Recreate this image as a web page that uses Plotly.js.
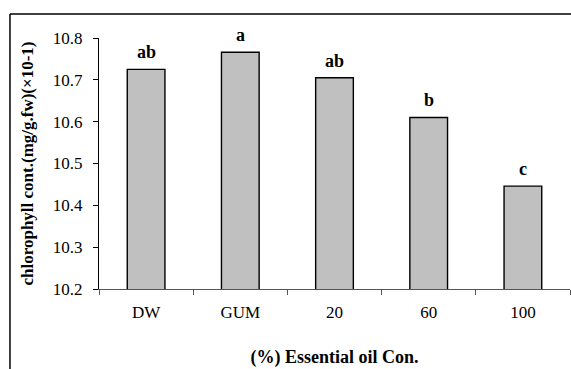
<!DOCTYPE html>
<html>
<head>
<meta charset="utf-8">
<script src="https://cdn.plot.ly/plotly-3.0.1.min.js"></script>
<style>html,body{margin:0;padding:0;background:#fff;}#chart{width:571px;height:369px;}</style>
</head>
<body>
<div id="chart"></div>
<script>
const categories = ["DW", "GUM", "20", "60", "100"];
const chlorophyll = [10.725, 10.766, 10.705, 10.610, 10.446];
const letters = ["ab", "a", "ab", "b", "c"];
const yTicks = [10.2, 10.3, 10.4, 10.5, 10.6, 10.7, 10.8];

const serif = "Liberation Serif, Times New Roman, serif";

const trace = {
  type: "bar",
  x: categories,
  y: chlorophyll,
  width: 0.4,
  marker: { color: "#c0c0c0", line: { color: "#000", width: 1.4 } },
  hoverinfo: "x+y"
};

const annotations = categories.map((c, i) => ({
  x: i, y: chlorophyll[i], xref: "x", yref: "y",
  text: "<b>" + letters[i] + "</b>",
  showarrow: false, yanchor: "bottom", yshift: 5,
  font: { family: serif, size: 18, color: "#000" }
}));

const layout = {
  width: 571, height: 369,
  margin: { l: 99, r: 1, t: 38, b: 80 },
  paper_bgcolor: "#fff", plot_bgcolor: "#fff",
  showlegend: false,
  xaxis: {
    type: "category",
    categoryorder: "array", categoryarray: categories,
    range: [-0.5, 4.5],
    showline: true, linecolor: "#555", linewidth: 1,
    ticks: "outside", tickson: "boundaries", ticklen: 5, tickcolor: "#555",
    tickfont: { family: serif, size: 17, color: "#000" },
    tickangle: 0,
    ticklabelstandoff: 8,
    showgrid: false, zeroline: false,
    title: { text: "<b>(%) Essential oil Con.</b>", font: { family: serif, size: 18, color: "#000" }, standoff: 28 }
  },
  yaxis: {
    range: [10.2, 10.8],
    tickvals: yTicks,
    ticktext: yTicks.map(v => v.toFixed(1)),
    showline: true, linecolor: "#000", linewidth: 1,
    ticks: "outside", ticklen: 5, tickcolor: "#000",
    tickfont: { family: serif, size: 17, color: "#000" },
    ticklabelstandoff: 7,
    showgrid: false, zeroline: false,
    title: { text: "<b>chlorophyll cont.(mg/g.fw)(×10-1)</b>", font: { family: serif, size: 17, color: "#000" }, standoff: 14 }
  },
  annotations: annotations,
  shapes: [
    { type: "line", xref: "paper", yref: "paper", x0: -0.189, x1: 1.01, y0: 1.0956, y1: 1.0956, line: { color: "#000", width: 1.5 } },
    { type: "line", xref: "paper", yref: "paper", x0: -0.189, x1: -0.189, y0: 1.0956, y1: -0.33, line: { color: "#000", width: 1.5 } }
  ]
};

Plotly.newPlot("chart", [trace], layout, { displayModeBar: false, staticPlot: true });
</script>
</body>
</html>
